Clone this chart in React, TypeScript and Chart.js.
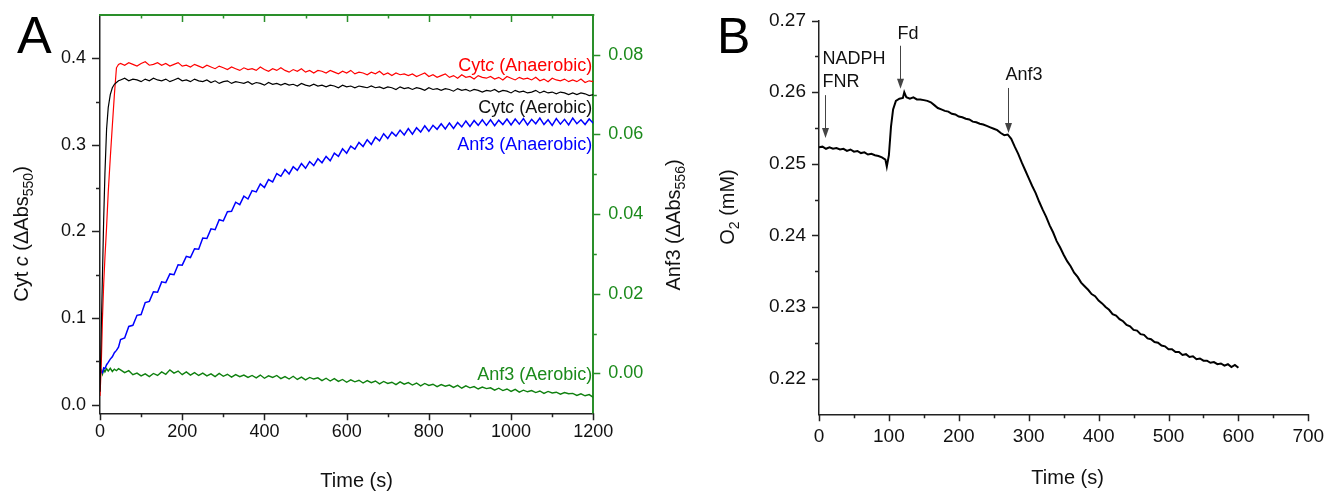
import React, { useEffect, useRef } from 'react';
import { Chart, registerables } from 'chart.js';

Chart.register(...registerables);

const FAMILY = '"Liberation Sans", Arial, Helvetica, sans-serif';
Chart.defaults.font.family = FAMILY;

// ---------------- Panel A data ----------------
const timeA = [0, 3, 6, 9, 12, 16, 20, 25, 30, 35, 40, 45,
  50, 60, 70, 80, 90, 100, 110, 120, 130, 140,
  150, 160, 170, 180, 190, 200, 210, 220, 230, 240,
  250, 260, 270, 280, 290, 300, 310, 320, 330, 340,
  350, 360, 370, 380, 390, 400, 410, 420, 430, 440,
  450, 460, 470, 480, 490, 500, 510, 520, 530, 540,
  550, 560, 570, 580, 590, 600, 610, 620, 630, 640,
  650, 660, 670, 680, 690, 700, 710, 720, 730, 740,
  750, 760, 770, 780, 790, 800, 810, 820, 830, 840,
  850, 860, 870, 880, 890, 900, 910, 920, 930, 940,
  950, 960, 970, 980, 990, 1000, 1010, 1020, 1030, 1040,
  1050, 1060, 1070, 1080, 1090, 1100, 1110, 1120, 1130, 1140,
  1150, 1160, 1170, 1180, 1190, 1200];

const cytAnaerobic = [0.010, 0.045, 0.100, 0.140, 0.170, 0.205, 0.245, 0.285, 0.322, 0.358, 0.389, 0.393,
  0.394, 0.392, 0.395, 0.393, 0.391, 0.394, 0.396, 0.392, 0.393, 0.395,
  0.392, 0.394, 0.391, 0.393, 0.395, 0.391, 0.392, 0.390, 0.393, 0.391,
  0.389, 0.392, 0.390, 0.388, 0.391, 0.389, 0.387, 0.390, 0.388, 0.386,
  0.389, 0.387, 0.388, 0.386, 0.390, 0.387, 0.385, 0.388, 0.386, 0.389,
  0.386, 0.384, 0.387, 0.385, 0.388, 0.384, 0.386, 0.383, 0.386, 0.385,
  0.383, 0.386, 0.384, 0.382, 0.385, 0.383, 0.386, 0.382, 0.384, 0.383,
  0.381, 0.384, 0.382, 0.385, 0.381, 0.383, 0.380, 0.383, 0.381, 0.382,
  0.380, 0.382, 0.379, 0.381, 0.383, 0.379, 0.381, 0.378, 0.380, 0.382,
  0.378, 0.380, 0.377, 0.381, 0.378, 0.379, 0.376, 0.380, 0.378, 0.377,
  0.379, 0.376, 0.378, 0.375, 0.379, 0.377, 0.375, 0.378, 0.376, 0.377,
  0.375, 0.378, 0.374, 0.376, 0.373, 0.377, 0.375, 0.374, 0.376, 0.373,
  0.375, 0.373, 0.376, 0.372, 0.374, 0.373];

const cytAerobic = [0.015, 0.085, 0.150, 0.215, 0.267, 0.318, 0.343, 0.358, 0.366, 0.370, 0.372, 0.374,
  0.375, 0.377, 0.374, 0.376, 0.375, 0.373, 0.376, 0.374, 0.377, 0.375,
  0.374, 0.376, 0.373, 0.375, 0.377, 0.374, 0.375, 0.373, 0.376, 0.374,
  0.373, 0.375, 0.372, 0.374, 0.371, 0.373, 0.374, 0.371, 0.373, 0.372,
  0.371, 0.373, 0.370, 0.372, 0.371, 0.369, 0.372, 0.370, 0.371, 0.369,
  0.371, 0.369, 0.370, 0.368, 0.371, 0.369, 0.368, 0.370, 0.368, 0.369,
  0.367, 0.369, 0.368, 0.366, 0.369, 0.367, 0.368, 0.366, 0.368, 0.367,
  0.366, 0.368, 0.366, 0.367, 0.365, 0.367, 0.366, 0.364, 0.367, 0.365,
  0.366, 0.364, 0.366, 0.365, 0.363, 0.366, 0.364, 0.365, 0.363, 0.365,
  0.364, 0.362, 0.365, 0.363, 0.364, 0.362, 0.364, 0.363, 0.361, 0.363,
  0.362, 0.364, 0.361, 0.363, 0.362, 0.360, 0.363, 0.361, 0.362, 0.360,
  0.361, 0.363, 0.360, 0.362, 0.360, 0.361, 0.359, 0.361, 0.360, 0.358,
  0.360, 0.358, 0.360, 0.359, 0.357, 0.358];

const anfAnaerobic = [0.0000, 0.0006, 0.0002, 0.0014, 0.0012, 0.0022, 0.0028, 0.0036, 0.0042, 0.0052, 0.0058, 0.0066,
  0.0085, 0.0089, 0.0118, 0.0121, 0.0146, 0.0148, 0.0178, 0.0181, 0.0205, 0.0204,
  0.0230, 0.0228, 0.0250, 0.0248, 0.0273, 0.0272, 0.0294, 0.0291, 0.0313, 0.0312,
  0.0340, 0.0339, 0.0363, 0.0361, 0.0386, 0.0383, 0.0406, 0.0407, 0.0430, 0.0424,
  0.0445, 0.0438, 0.0459, 0.0456, 0.0476, 0.0467, 0.0487, 0.0481, 0.0502, 0.0495,
  0.0512, 0.0501, 0.0519, 0.0510, 0.0527, 0.0515, 0.0532, 0.0522, 0.0539, 0.0529,
  0.0545, 0.0534, 0.0553, 0.0545, 0.0564, 0.0553, 0.0571, 0.0563, 0.0580, 0.0570,
  0.0587, 0.0575, 0.0593, 0.0584, 0.0602, 0.0590, 0.0606, 0.0596, 0.0611, 0.0599,
  0.0615, 0.0601, 0.0617, 0.0606, 0.0622, 0.0608, 0.0623, 0.0613, 0.0627, 0.0614,
  0.0629, 0.0615, 0.0630, 0.0619, 0.0634, 0.0620, 0.0635, 0.0623, 0.0637, 0.0623,
  0.0637, 0.0622, 0.0636, 0.0625, 0.0639, 0.0624, 0.0639, 0.0626, 0.0640, 0.0624,
  0.0638, 0.0627, 0.0641, 0.0625, 0.0637, 0.0623, 0.0640, 0.0626, 0.0638, 0.0624,
  0.0641, 0.0627, 0.0637, 0.0625, 0.0639, 0.0628];

const anfAerobic = [0.0003, 0.0008, -0.0002, 0.0010, 0.0004, 0.0012, 0.0006, 0.0013, 0.0005, 0.0011, 0.0007, 0.0012,
  0.0009, 0.0002, 0.0007, -0.0003, 0.0001, -0.0006, -0.0001, -0.0008, 0.0000, -0.0005,
  0.0004, -0.0002, 0.0009, 0.0001, 0.0006, -0.0003, 0.0004, -0.0004, 0.0002, -0.0005,
  0.0001, -0.0006, -0.0001, -0.0008, 0.0000, -0.0007, -0.0002, -0.0009, -0.0003, -0.0008,
  -0.0004, -0.0010, -0.0005, -0.0011, -0.0004, -0.0012, -0.0006, -0.0010, -0.0005, -0.0013,
  -0.0008, -0.0014, -0.0007, -0.0015, -0.0009, -0.0016, -0.0010, -0.0014, -0.0011, -0.0018,
  -0.0012, -0.0019, -0.0013, -0.0020, -0.0015, -0.0022, -0.0016, -0.0021, -0.0017, -0.0024,
  -0.0018, -0.0023, -0.0019, -0.0026, -0.0020, -0.0025, -0.0022, -0.0028, -0.0021, -0.0027,
  -0.0023, -0.0029, -0.0024, -0.0031, -0.0025, -0.0030, -0.0027, -0.0033, -0.0028, -0.0032,
  -0.0029, -0.0035, -0.0030, -0.0037, -0.0031, -0.0036, -0.0033, -0.0039, -0.0034, -0.0038,
  -0.0036, -0.0042, -0.0037, -0.0043, -0.0039, -0.0045, -0.0040, -0.0047, -0.0042, -0.0046,
  -0.0043, -0.0048, -0.0044, -0.0050, -0.0045, -0.0049, -0.0047, -0.0052, -0.0048, -0.0051,
  -0.0050, -0.0055, -0.0051, -0.0056, -0.0053, -0.0060];

const timeTicksA = [0, 200, 400, 600, 800, 1000, 1200];
const timeMinorA = [100, 300, 500, 700, 900, 1100];
const cytTicks = [0, 0.1, 0.2, 0.3, 0.4];
const cytMinor = [0.05, 0.15, 0.25, 0.35];
const anfTicks = [0, 0.02, 0.04, 0.06, 0.08];
const anfMinor = [0.01, 0.03, 0.05, 0.07];

// ---------------- Panel B data ----------------
const timeB = [0, 5, 10, 15, 20, 25, 30, 35, 40, 45, 50, 55, 60, 65, 70, 75, 80, 85, 90, 95,
  97, 100, 103, 106, 110, 115, 120, 122,
  125, 130, 135, 140, 145, 150, 155, 160, 165, 170, 175, 180, 185, 190, 195, 200,
  205, 210, 215, 220, 225, 230, 235, 240, 245, 250, 255, 260, 265, 270, 275, 280, 285, 290, 295, 300,
  305, 310, 315, 320, 325, 330, 335, 340, 345, 350, 355, 360, 365, 370, 375, 380, 385, 390, 395, 400,
  405, 410, 415, 420, 425, 430, 435, 440, 445, 450, 455, 460, 465, 470, 475, 480, 485, 490, 495, 500,
  505, 510, 515, 520, 525, 530, 535, 540, 545, 550, 555, 560, 565, 570, 575, 580, 585, 590, 595, 600];

const o2 = [0.2523, 0.2524, 0.2521, 0.2523, 0.2521, 0.2522, 0.2520, 0.2521, 0.2518, 0.2520,
  0.2517, 0.2518, 0.2515, 0.2516, 0.2513, 0.2514, 0.2512, 0.2511, 0.2509, 0.2506,
  0.2496, 0.2512, 0.2552, 0.2576, 0.2588, 0.2591, 0.2592, 0.2600,
  0.2593, 0.2591, 0.2593, 0.2590, 0.2590, 0.2589, 0.2588, 0.2586, 0.2582, 0.2578, 0.2576, 0.2574, 0.2573, 0.2570, 0.2569, 0.2566,
  0.2565, 0.2563, 0.2562, 0.2559, 0.2558, 0.2556, 0.2555, 0.2553, 0.2551, 0.2549, 0.2547, 0.2543, 0.2540, 0.2541, 0.2535, 0.2524, 0.2514, 0.2502, 0.2491, 0.2480,
  0.2469, 0.2459, 0.2447, 0.2436, 0.2426, 0.2414, 0.2404, 0.2392, 0.2383, 0.2373, 0.2364, 0.2357, 0.2348, 0.2342, 0.2334, 0.2329, 0.2324, 0.2318, 0.2315, 0.2309,
  0.2305, 0.2300, 0.2296, 0.2290, 0.2288, 0.2283, 0.2280, 0.2275, 0.2273, 0.2268, 0.2267, 0.2262, 0.2261, 0.2256, 0.2255, 0.2251, 0.2250, 0.2246, 0.2245, 0.2241,
  0.2241, 0.2237, 0.2237, 0.2233, 0.2234, 0.2230, 0.2231, 0.2227, 0.2228, 0.2225, 0.2225, 0.2222, 0.2223, 0.2220, 0.2221, 0.2218, 0.2220, 0.2216, 0.2219, 0.2215];

const timeTicksB = [0, 100, 200, 300, 400, 500, 600, 700];
const timeMinorB = [50, 150, 250, 350, 450, 550, 650];
const o2Ticks = [0.22, 0.23, 0.24, 0.25, 0.26, 0.27];
const o2Minor = [0.225, 0.235, 0.245, 0.255, 0.265];

// additions in panel B: time of addition, arrow tip and tail values
const additionLabels = [['NADPH', 'FNR'], ['Fd'], ['Anf3']];
const additionTimes = [8, 116, 270];
const arrowTip = [0.2536, 0.2605, 0.2543];
const arrowTail = [0.2596, 0.2665, 0.2606];
const labelValues = [[0.2648, 0.2617], [0.2683], [0.2626]];

// ---------------- styles ----------------
const BLACK = '#111111';
const GREEN_TEXT = '#1b8a1b';
const GREEN_AXIS = '#2a8f2a';
const GREEN_LINE = '#0f800f';

type Part = { t: string; it?: boolean; sub?: boolean };

function drawRich(ctx: CanvasRenderingContext2D, parts: Part[], x: number, y: number, size: number,
  color: string, align: 'left' | 'right' | 'center', rotate = false) {
  ctx.save();
  ctx.translate(x, y);
  if (rotate) ctx.rotate(-Math.PI / 2);
  ctx.fillStyle = color;
  ctx.textBaseline = 'alphabetic';
  ctx.textAlign = 'left';
  const fonts = parts.map(p => `${p.it ? 'italic ' : ''}${p.sub ? Math.round(size * 0.68) : size}px ${FAMILY}`);
  const widths = parts.map((p, i) => { ctx.font = fonts[i]; return ctx.measureText(p.t).width; });
  const total = widths.reduce((a, b) => a + b, 0);
  let cx = align === 'left' ? 0 : align === 'right' ? -total : -total / 2;
  const base = size * 0.358;
  parts.forEach((p, i) => {
    ctx.font = fonts[i];
    ctx.fillText(p.t, cx, base + (p.sub ? size * 0.24 : 0));
    cx += widths[i];
  });
  ctx.restore();
}

function vTicks(ctx: CanvasRenderingContext2D, scale: any, vals: number[], x0: number, len: number) {
  ctx.beginPath();
  vals.forEach(v => {
    const y = Math.round(scale.getPixelForValue(v)) + 0.5;
    ctx.moveTo(x0, y);
    ctx.lineTo(x0 + len, y);
  });
  ctx.stroke();
}

function hTicks(ctx: CanvasRenderingContext2D, scale: any, vals: number[], y0: number, len: number) {
  ctx.beginPath();
  vals.forEach(v => {
    const x = Math.round(scale.getPixelForValue(v)) + 0.5;
    ctx.moveTo(x, y0);
    ctx.lineTo(x, y0 + len);
  });
  ctx.stroke();
}

const plugA = {
  id: 'plugA',
  afterDraw(chart: any) {
    const { ctx, chartArea: ca, scales } = chart;
    const sx = scales.x, sy = scales.y, sy2 = scales.y2;
    ctx.save();
    ctx.lineWidth = 1.5;
    ctx.strokeStyle = '#222';
    vTicks(ctx, sy, cytTicks, ca.left, -8);
    vTicks(ctx, sy, cytMinor, ca.left, -4);
    hTicks(ctx, sx, timeTicksA, ca.bottom, 7);
    hTicks(ctx, sx, timeMinorA, ca.bottom, 4);
    ctx.strokeStyle = GREEN_AXIS;
    vTicks(ctx, sy2, anfTicks, ca.right, 7);
    vTicks(ctx, sy2, anfMinor, ca.right, 3.5);
    ctx.lineWidth = 2;
    ctx.beginPath();
    ctx.moveTo(ca.left - 1, ca.top);
    ctx.lineTo(ca.right + 1, ca.top);
    ctx.stroke();
    ctx.lineWidth = 1.5;
    hTicks(ctx, sx, timeTicksA.filter(v => v > 0 && v < 1200), ca.top, 7);
    hTicks(ctx, sx, timeMinorA, ca.top, 3.5);
    ctx.restore();

    // series labels
    const rx = ca.right - 1;
    drawRich(ctx, [{ t: 'Cyt' }, { t: 'c', it: true }, { t: ' (Anaerobic)' }], rx, sy.getPixelForValue(0.3925), 18, '#ff0000', 'right');
    drawRich(ctx, [{ t: 'Cyt' }, { t: 'c', it: true }, { t: ' (Aerobic)' }], rx, sy.getPixelForValue(0.3443), 18, BLACK, 'right');
    drawRich(ctx, [{ t: 'Anf3 (Anaerobic)' }], rx, sy.getPixelForValue(0.3015), 18, '#0000ff', 'right');
    drawRich(ctx, [{ t: 'Anf3 (Aerobic)' }], rx, sy2.getPixelForValue(-0.0001), 18, GREEN_TEXT, 'right');

    // axis titles
    drawRich(ctx, [{ t: 'Cyt ' }, { t: 'c', it: true }, { t: ' (ΔAbs' }, { t: '550', sub: true }, { t: ')' }],
      21, 234, 20, BLACK, 'center', true);
    drawRich(ctx, [{ t: 'Anf3 (ΔAbs' }, { t: '556', sub: true }, { t: ')' }],
      673, 225, 20, BLACK, 'center', true);
    drawRich(ctx, [{ t: 'Time (s)' }], (ca.left + ca.right) / 2 + 10, 480, 20, BLACK, 'center');

    // panel letter
    ctx.save();
    ctx.fillStyle = '#000';
    ctx.font = `52px ${FAMILY}`;
    ctx.textBaseline = 'alphabetic';
    ctx.fillText('A', 17, 53);
    ctx.restore();
  },
};

const plugB = {
  id: 'plugB',
  afterDraw(chart: any) {
    const { ctx, chartArea: ca, scales } = chart;
    const sx = scales.x, sy = scales.y;
    ctx.save();
    ctx.lineWidth = 1.5;
    ctx.strokeStyle = '#222';
    vTicks(ctx, sy, o2Ticks, ca.left, -7);
    vTicks(ctx, sy, o2Minor, ca.left, -4);
    hTicks(ctx, sx, timeTicksB, ca.bottom, 7);
    hTicks(ctx, sx, timeMinorB, ca.bottom, 4);

    // addition arrows
    ctx.strokeStyle = '#444';
    ctx.fillStyle = '#444';
    ctx.lineWidth = 1;
    additionTimes.forEach((t, i) => {
      const x = Math.round(sx.getPixelForValue(t)) + 0.5;
      const yTip = sy.getPixelForValue(arrowTip[i]);
      const yTail = sy.getPixelForValue(arrowTail[i]);
      ctx.beginPath();
      ctx.moveTo(x, yTail);
      ctx.lineTo(x, yTip - 8);
      ctx.stroke();
      ctx.beginPath();
      ctx.moveTo(x, yTip);
      ctx.lineTo(x - 3.5, yTip - 10);
      ctx.lineTo(x + 3.5, yTip - 10);
      ctx.closePath();
      ctx.fill();
      additionLabels[i].forEach((lab, j) => {
        drawRich(ctx, [{ t: lab }], x - 3, sy.getPixelForValue(labelValues[i][j]), 18, BLACK, 'left');
      });
    });
    ctx.restore();

    drawRich(ctx, [{ t: 'O' }, { t: '2', sub: true }, { t: ' (mM)' }], 27, 207, 20, BLACK, 'center', true);
    drawRich(ctx, [{ t: 'Time (s)' }], (ca.left + ca.right) / 2 + 4, 477, 20, BLACK, 'center');

    ctx.save();
    ctx.fillStyle = '#000';
    ctx.font = `50px ${FAMILY}`;
    ctx.textBaseline = 'alphabetic';
    ctx.fillText('B', 17, 53);
    ctx.restore();
  },
};

function toPoints(xs: number[], ys: number[]) {
  return xs.map((x, i) => ({ x, y: ys[i] }));
}

function fixedTicks(vals: number[]) {
  return (scale: any) => { scale.ticks = vals.map(v => ({ value: v })); };
}

function fitSize(prop: 'width' | 'height', size: number) {
  return (s: any) => {
    s[prop] = size;
    s.paddingTop = 0; s.paddingBottom = 0; s.paddingLeft = 0; s.paddingRight = 0;
  };
}

export default function App() {
  const refA = useRef<HTMLCanvasElement>(null);
  const refB = useRef<HTMLCanvasElement>(null);

  useEffect(() => {
    const chartA = new Chart(refA.current as HTMLCanvasElement, {
      type: 'line',
      data: {
        datasets: [
          { data: toPoints(timeA, cytAerobic), borderColor: '#000000', borderWidth: 1.2, pointRadius: 0, yAxisID: 'y', tension: 0 },
          { data: toPoints(timeA, cytAnaerobic), borderColor: '#ff0000', borderWidth: 1.2, pointRadius: 0, yAxisID: 'y', tension: 0 },
          { data: toPoints(timeA, anfAnaerobic), borderColor: '#0000ff', borderWidth: 1.5, pointRadius: 0, yAxisID: 'y2', tension: 0 },
          { data: toPoints(timeA, anfAerobic), borderColor: GREEN_LINE, borderWidth: 1.4, pointRadius: 0, yAxisID: 'y2', tension: 0 },
        ],
      },
      options: {
        animation: false,
        responsive: false,
        maintainAspectRatio: false,
        events: [],
        layout: { padding: { top: 15, left: 0, right: 0, bottom: 0 } },
        plugins: { legend: { display: false }, tooltip: { enabled: false } },
        scales: {
          x: {
            type: 'linear', position: 'bottom', min: 0, max: 1200,
            afterBuildTicks: fixedTicks(timeTicksA),
            afterFit: fitSize('height', 77.7),
            grid: { display: false, drawTicks: false },
            border: { display: true, color: '#222', width: 1.5 },
            ticks: { padding: 8, color: BLACK, font: { size: 18 }, maxRotation: 0, autoSkip: false, callback: (v: any) => String(v) },
          },
          y: {
            type: 'linear', position: 'left', min: -0.01, max: 0.45,
            afterBuildTicks: fixedTicks(cytTicks),
            afterFit: fitSize('width', 100),
            grid: { display: false, drawTicks: false },
            border: { display: true, color: '#222', width: 1.5 },
            ticks: { padding: 14, color: BLACK, font: { size: 18 }, autoSkip: false, callback: (v: any) => Number(v).toFixed(1) },
          },
          y2: {
            type: 'linear', position: 'right', min: -0.01, max: 0.09,
            afterBuildTicks: fixedTicks(anfTicks),
            afterFit: fitSize('width', 106.7),
            grid: { display: false, drawTicks: false },
            border: { display: true, color: GREEN_AXIS, width: 2 },
            ticks: { padding: 15, color: GREEN_TEXT, font: { size: 18 }, autoSkip: false, callback: (v: any) => Number(v).toFixed(2) },
          },
        },
      },
      plugins: [plugA],
    } as any);

    const chartB = new Chart(refB.current as HTMLCanvasElement, {
      type: 'line',
      data: {
        datasets: [
          { data: toPoints(timeB, o2), borderColor: '#000000', borderWidth: 2, pointRadius: 0, tension: 0 },
        ],
      },
      options: {
        animation: false,
        responsive: false,
        maintainAspectRatio: false,
        events: [],
        layout: { padding: { top: 20.7, left: 0, right: 19.7, bottom: 0 } },
        plugins: { legend: { display: false }, tooltip: { enabled: false } },
        scales: {
          x: {
            type: 'linear', position: 'bottom', min: 0, max: 700,
            afterBuildTicks: fixedTicks(timeTicksB),
            afterFit: fitSize('height', 76.7),
            grid: { display: false, drawTicks: false },
            border: { display: true, color: '#222', width: 1.5 },
            ticks: { padding: 11, color: BLACK, font: { size: 19 }, maxRotation: 0, autoSkip: false, callback: (v: any) => String(v) },
          },
          y: {
            type: 'linear', position: 'left', min: 0.215, max: 0.27,
            afterBuildTicks: fixedTicks(o2Ticks),
            afterFit: fitSize('width', 119),
            grid: { display: false, drawTicks: false },
            border: { display: true, color: '#222', width: 1.5 },
            ticks: { padding: 13, color: BLACK, font: { size: 19 }, autoSkip: false, callback: (v: any) => Number(v).toFixed(2) },
          },
        },
      },
      plugins: [plugB],
    } as any);

    return () => { chartA.destroy(); chartB.destroy(); };
  }, []);

  return (
    <div style={{ position: 'absolute', left: 0, top: 0, width: 1328, height: 491, background: '#ffffff', overflow: 'hidden' }}>
      <canvas ref={refA} width={700} height={491} style={{ position: 'absolute', left: 0, top: 0, width: 700, height: 491 }} />
      <canvas ref={refB} width={628} height={491} style={{ position: 'absolute', left: 700, top: 0, width: 628, height: 491 }} />
    </div>
  );
}
